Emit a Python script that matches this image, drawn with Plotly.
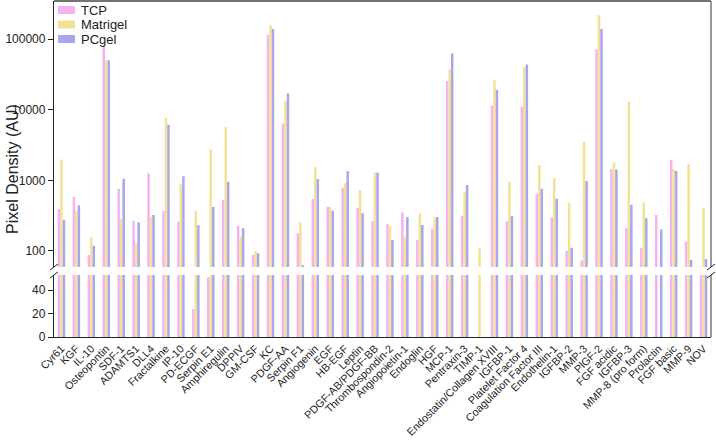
import plotly.graph_objects as go

categories = ["Cyr61", "KGF", "IL-10", "Osteopontin", "SDF-1", "ADAMTS1", "DLL4", "Fractalkine",
              "IP-10", "PD-ECGF", "Serpin E1", "Amphiregulin", "DPPIV", "GM-CSF", "KC", "PDGF-AA",
              "Serpin F1", "Angiogenin", "EGF", "HB-EGF", "Leptin", "PDGF-AB/PDGF-BB",
              "Thrombospondin-2", "Angiopoietin-1", "Endoglin", "HGF", "MCP-1", "Pentraxin-3",
              "TIMP-1", "Endostatin/Collagen XVIII", "IGFBP-1", "Platelet Factor 4",
              "Coagulation Factor III", "Endothelin-1", "IGFBP-2", "MMP-3", "PlGF-2", "FGF acidic",
              "IGFBP-3", "MMP-8 (pro form)", "Prolactin", "FGF basic", "MMP-9", "NOV"]

tcp = [393, 588, 88, 82500, 762, 268, 1256, 368,
       260, 24, 51, 527, 226, 88, 116000, 6400,
       178, 544, 424, 787, 410, 266,
       241, 352, 143, 207, 25500, 312,
       0, 11500, 263, 11000,
       641, 299, 101, 73, 72100, 1445,
       214, 109, 323, 1940, 136, 60]

matrigel = [1982, 372, 156, 50500, 284, 130, 306, 7620,
            877, 372, 2770, 5740, 160, 101, 158000, 13400,
            255, 1560, 415, 907, 729, 1297,
            226, 160, 341, 299, 37600, 676,
            109, 26300, 957, 40500,
            1650, 1080, 483, 3520, 219000, 1800,
            12970, 483, 0, 1445, 1703, 402]

pcgel = [276, 443, 119, 50500, 1057, 255, 323, 6140,
         1140, 231, 420, 957, 209, 93, 140000, 17000,
         63, 1045, 372, 1356, 341, 1297,
         143, 303, 233, 303, 62600, 859,
         0, 19000, 312, 43800,
         762, 550, 111, 978, 139000, 1430,
         453, 290, 203, 1356, 75, 77]

series_names = ["TCP", "Matrigel", "PCgel"]
series_vals = [tcp, matrigel, pcgel]
series_colors = ["#F4B2F0", "#F4E195", "#A7A7EC"]

FONT = "Liberation Sans, Arial, sans-serif"
fig = go.Figure()
for name, vals, col in zip(series_names, series_vals, series_colors):
    fig.add_trace(go.Bar(x=categories, y=vals, name=name, marker_color=col, marker_line_width=0,
                         xaxis="x", yaxis="y", showlegend=False))
    fig.add_trace(go.Bar(x=categories, y=vals, name=name, marker_color=col, marker_line_width=0,
                         xaxis="x2", yaxis="y2", showlegend=False))

H = 336
low_top = (337 - 275) / H
up_bot = (337 - 267) / H

fig.update_layout(
    width=716, height=440,
    margin=dict(l=54, r=5, t=1, b=103, autoexpand=False),
    paper_bgcolor="white", plot_bgcolor="white",
    barmode="group", bargap=0.5, bargroupgap=0,
    font=dict(family=FONT, size=12, color="#222"),
    xaxis=dict(domain=[0, 1], anchor="y", tickangle=-45, showline=True, linecolor="#222",
               linewidth=1.3, ticks="", tickmode="array", tickvals=categories,
               ticktext=categories, tickfont=dict(size=10.8, color="#222"),
               range=[-0.5, len(categories) - 0.5], automargin=False),
    xaxis2=dict(domain=[0, 1], anchor="y2", matches="x", visible=False),
    yaxis=dict(domain=[0, low_top], range=[0, 53], tickvals=[0, 20, 40], ticks="outside",
               ticklen=5, tickcolor="#222", showline=True, linecolor="#222", linewidth=1.3,
               showgrid=False, zeroline=False, tickfont=dict(size=12, color="#222"),
               automargin=False),
    yaxis2=dict(domain=[up_bot, 1], type="log", range=[1.773, 5.541],
                tickvals=[100, 1000, 10000, 100000], ticktext=["100", "1000", "10000", "100000"],
                ticks="outside", ticklen=5, tickcolor="#222", showline=True, linecolor="#222",
                linewidth=1.3, showgrid=False, tickfont=dict(size=12, color="#222"),
                automargin=False),
    showlegend=False,
)

shapes = []
shapes.append(dict(type="line", xref="paper", yref="paper", x0=0, x1=1, y0=1, y1=1,
                   line=dict(color="#444", width=1.5)))
shapes.append(dict(type="line", xref="paper", yref="paper", x0=1, x1=1, y0=up_bot, y1=1,
                   line=dict(color="#777", width=1.5)))
shapes.append(dict(type="line", xref="paper", yref="paper", x0=1, x1=1, y0=0, y1=low_top,
                   line=dict(color="#777", width=1.5)))
for xa in (0, 1):
    for ya in (up_bot, low_top):
        shapes.append(dict(type="line", xref="paper", yref="paper", xsizemode="pixel",
                           ysizemode="pixel", xanchor=xa, yanchor=ya, x0=-4, x1=4, y0=-3, y1=3,
                           line=dict(color="#222", width=1)))

for i, (name, col) in enumerate(zip(series_names, series_colors)):
    yc = -9 - 14.5 * i
    shapes.append(dict(type="rect", xref="paper", yref="paper", xsizemode="pixel",
                       ysizemode="pixel", xanchor=0, yanchor=1, x0=4, x1=21, y0=yc - 4, y1=yc + 4,
                       fillcolor=col, line=dict(width=0)))
    fig.add_annotation(text=name, xref="paper", yref="paper",
                       x=25 / 657, y=1 + yc / H, xanchor="left", yanchor="middle",
                       showarrow=False, font=dict(size=13, color="#222", family=FONT))
fig.update_layout(shapes=shapes)

fig.add_annotation(text="Pixel Density (AU)", xref="paper", yref="paper", x=-0.064, y=0.5,
                   xanchor="center", yanchor="middle", textangle=-90, showarrow=False,
                   font=dict(size=16, color="#222", family=FONT))

fig.write_html("out.html", config={"displayModeBar": False},
               post_script="document.body.style.margin='0';document.body.style.overflow='hidden';")
